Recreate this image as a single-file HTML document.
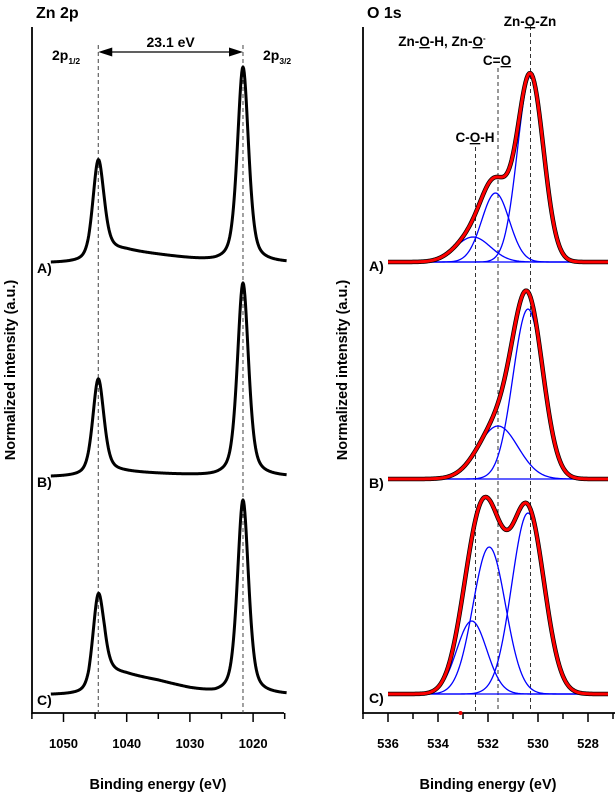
<!DOCTYPE html>
<html><head><meta charset="utf-8">
<style>
html,body{margin:0;padding:0;background:#fff;}
svg{display:block;font-family:"Liberation Sans",Arial,sans-serif;}
</style></head>
<body>
<svg id="chart" width="615" height="793" viewBox="0 0 615 793" xmlns="http://www.w3.org/2000/svg">
  <g id="zn"></g>
  <g id="o1s"></g>
</svg>
<script>
// ---------- Zn 2p data ----------
const znLabels = ["A)", "B)", "C)"];
const znBaselines = [263, 477, 695];
const znPeakCenters = [1044.5, 1021.6];
const znPeakAmpsA = [96, 196];
const znPeakAmpsB = [95, 194];
const znPeakAmpsC = [88, 195];
const znPeakFwhm = [2.1, 2.1];
const znBgEnergies = [1055, 1046, 1043.5, 1040, 1035, 1030, 1026, 1023, 1020, 1014];
const znBgA = [0, 0, 12, 12, 8, 4, 1, 0, 0, 0];
const znBgB = [0, 0, 5, 4.5, 3, 1.5, 0, 0, 0, 0];
const znBgC = [0, 0, 22, 20, 14, 6, 1, 0, 0, 0];
const znXTicks = [1050, 1040, 1030, 1020];

// ---------- O 1s data ----------
const oLabels = ["A)", "B)", "C)"];
const oBaselines = [262, 479, 694];
const oCentersA = [532.6, 531.7, 530.3];
const oAmpsA = [25, 69, 186];
const oSigmaA = [0.7, 0.55, 0.52];
const oCentersB = [531.6, 530.4];
const oAmpsB = [53, 170];
const oSigmaB = [0.8, 0.6];
const oCentersC = [532.65, 531.95, 530.4];
const oAmpsC = [73, 147, 181];
const oSigmaC = [0.6, 0.65, 0.65];
const oXTicks = [536, 534, 532, 530, 528];
const oRefLines = [532.5, 531.6, 530.3];

const NS = "http://www.w3.org/2000/svg";
function mk(parent, tag, attrs, text) {
  const e = document.createElementNS(NS, tag);
  for (const k in attrs) e.setAttribute(k, attrs[k]);
  if (text !== undefined) e.textContent = text;
  parent.appendChild(e);
  return e;
}
const xZn = E => 63.5 + (1050 - E) * 6.32;
const xO = E => 388 + (536 - E) * 25;
const yStack = (base, v) => base - v;

function interp(xs, ys, x) {
  for (let i = 0; i < xs.length - 1; i++) {
    const a = xs[i], b = xs[i + 1];
    if ((x <= a && x >= b)) { const t = (x - a) / (b - a); return ys[i] + t * (ys[i + 1] - ys[i]); }
  }
  return 0;
}
function pv(E, c, amp, fwhm) {
  const d = E - c, s = fwhm / 2.3548, g = fwhm / 2;
  const G = Math.exp(-d * d / (2 * s * s)), L = 1 / (1 + d * d / (g * g));
  return amp * (0.5 * G + 0.5 * L);
}
function gauss(E, c, amp, s) { const d = E - c; return amp * Math.exp(-d * d / (2 * s * s)); }

// ---------- Zn panel ----------
const zn = document.getElementById("zn");
let e;
e = mk(zn, "text", {x: 36, y: 18, "font-size": 16, "font-weight": "bold"}, "Zn 2p");


e = mk(zn, "line", {x1: 32, y1: 27, x2: 32, y2: 714, stroke: "#000", "stroke-width": 1.8});


e = mk(zn, "line", {x1: 32, y1: 713, x2: 284, y2: 713, stroke: "#000", "stroke-width": 1.8});


for (let E = 1055; E >= 1015; E -= 5) {
  const major = znXTicks.indexOf(E) >= 0;
  e = mk(zn, "line", {x1: xZn(E), y1: 713, x2: xZn(E), y2: major ? 722 : 719, stroke: "#000", "stroke-width": 1.5});
  
  
}
znXTicks.forEach(E => {
  e = mk(zn, "text", {x: xZn(E), y: 748, "font-size": 13, "font-weight": "bold", "text-anchor": "middle"}, String(E));
  
  
});
e = mk(zn, "text", {x: 158, y: 789, "font-size": 14.5, "font-weight": "bold", "text-anchor": "middle"}, "Binding energy (eV)");


e = mk(zn, "text", {x: 0, y: 0, "font-size": 14.5, "font-weight": "bold", "text-anchor": "middle", transform: "translate(15,370) rotate(-90)"}, "Normalized intensity (a.u.)");


znPeakCenters.forEach(c => {
  e = mk(zn, "line", {x1: xZn(c), y1: 45, x2: xZn(c), y2: 713, stroke: "#444", "stroke-width": 1, "stroke-dasharray": "4,3"});
  
  
});
const ax1 = xZn(znPeakCenters[0]), ax2 = xZn(znPeakCenters[1]);
e = mk(zn, "line", {x1: ax1 + 8, y1: 52, x2: ax2 - 8, y2: 52, stroke: "#000", "stroke-width": 1.3});


mk(zn, "polygon", {points: `${ax1},52 ${ax1+14},47.5 ${ax1+14},56.5`, fill: "#000"});
mk(zn, "polygon", {points: `${ax2},52 ${ax2-14},47.5 ${ax2-14},56.5`, fill: "#000"});
e = mk(zn, "text", {x: (ax1 + ax2) / 2, y: 47, "font-size": 14, "font-weight": "bold", "text-anchor": "middle"}, "23.1 eV");


e = mk(zn, "text", {x: 52, y: 60, "font-size": 14, "font-weight": "bold"});


e.innerHTML = '2p<tspan font-size="8.5" dy="4">1/2</tspan>';
e = mk(zn, "text", {x: 263, y: 60, "font-size": 14, "font-weight": "bold"});


e.innerHTML = '2p<tspan font-size="8.5" dy="4">3/2</tspan>';

const znAmps = [znPeakAmpsA, znPeakAmpsB, znPeakAmpsC];
const znBgs = [znBgA, znBgB, znBgC];
znBaselines.forEach((base, i) => {
  let d = "";
  for (let E = 1052; E >= 1014.7; E -= 0.1) {
    let v = interp(znBgEnergies, znBgs[i], E);
    znPeakCenters.forEach((c, k) => { v += pv(E, c, znAmps[i][k], znPeakFwhm[k]); });
    d += (d ? "L" : "M") + xZn(E).toFixed(2) + "," + yStack(base, v).toFixed(2);
  }
  e = mk(zn, "path", {d: d, fill: "none", stroke: "#000", "stroke-width": 3, "stroke-linejoin": "round"});
  
  
  e = mk(zn, "text", {x: 37, y: base + 10, "font-size": 14, "font-weight": "bold"}, znLabels[i]);
  
  
});

// ---------- O 1s panel ----------
const o = document.getElementById("o1s");
e = mk(o, "text", {x: 367, y: 18, "font-size": 16, "font-weight": "bold"}, "O 1s");


e = mk(o, "line", {x1: 363, y1: 27, x2: 363, y2: 714, stroke: "#000", "stroke-width": 1.8});


e = mk(o, "line", {x1: 363, y1: 713, x2: 615, y2: 713, stroke: "#000", "stroke-width": 1.8});


for (let E = 537; E >= 527; E -= 1) {
  const major = oXTicks.indexOf(E) >= 0;
  e = mk(o, "line", {x1: xO(E), y1: 713, x2: xO(E), y2: major ? 722 : 719, stroke: "#000", "stroke-width": 1.5});
  
  
}
oXTicks.forEach(E => {
  e = mk(o, "text", {x: xO(E), y: 748, "font-size": 13, "font-weight": "bold", "text-anchor": "middle"}, String(E));
  
  
});
e = mk(o, "text", {x: 488, y: 789, "font-size": 14.5, "font-weight": "bold", "text-anchor": "middle"}, "Binding energy (eV)");


e = mk(o, "text", {x: 0, y: 0, "font-size": 14.5, "font-weight": "bold", "text-anchor": "middle", transform: "translate(347,370) rotate(-90)"}, "Normalized intensity (a.u.)");


const refTops = [147, 68, 26];
oRefLines.forEach((c, k) => {
  e = mk(o, "line", {x1: xO(c), y1: refTops[k], x2: xO(c), y2: 713, stroke: "#333", "stroke-width": 1, "stroke-dasharray": "4,3"});
  
  
});
e = mk(o, "circle", {cx: xO(533.1), cy: 713, r: 2, fill: "#e00"});


function uText(x, y, html, name, anchor) {
  const t = mk(o, "text", {x: x, y: y, "font-size": 13.5, "font-weight": "bold", "text-anchor": anchor || "middle"});
  
  
  t.innerHTML = html;
}
uText(530, 26, 'Zn-<tspan text-decoration="underline">O</tspan>-Zn', 'label-zn-o-zn');
uText(442, 46, 'Zn-<tspan text-decoration="underline">O</tspan>-H, Zn-<tspan text-decoration="underline">O</tspan><tspan font-size="8" dy="-5">-</tspan>', 'label-zn-o-h');
uText(497, 65, 'C=<tspan text-decoration="underline">O</tspan>', 'label-c-o');
uText(475, 142, 'C-<tspan text-decoration="underline">O</tspan>-H', 'label-c-o-h');

const oCs = [oCentersA, oCentersB, oCentersC];
const oAs = [oAmpsA, oAmpsB, oAmpsC];
const oSs = [oSigmaA, oSigmaB, oSigmaC];
oBaselines.forEach((base, i) => {
  const cs = oCs[i], as = oAs[i], ss = oSs[i];
  e = mk(o, "line", {x1: xO(536), y1: base, x2: xO(527.2), y2: base, stroke: "#0000ff", "stroke-width": 1.3});
  
  
  cs.forEach((c, k) => {
    let d = "";
    for (let E = 536; E >= 527.2; E -= 0.05) {
      d += (d ? "L" : "M") + xO(E).toFixed(2) + "," + yStack(base, gauss(E, c, as[k], ss[k])).toFixed(2);
    }
    e = mk(o, "path", {d: d, fill: "none", stroke: "#0000ff", "stroke-width": 1.3});
    
    
  });
  let d = "";
  for (let E = 536; E >= 527.2; E -= 0.05) {
    let v = 0; cs.forEach((c, k) => { v += gauss(E, c, as[k], ss[k]); });
    d += (d ? "L" : "M") + xO(E).toFixed(2) + "," + yStack(base, v).toFixed(2);
  }
  e = mk(o, "path", {d: d, fill: "none", stroke: "#000", "stroke-width": 4.5, "stroke-linejoin": "round"});
  
  
  e = mk(o, "path", {d: d, fill: "none", stroke: "#ff0000", "stroke-width": 3, "stroke-linejoin": "round"});
  
  
  e = mk(o, "text", {x: 369, y: base + 9, "font-size": 14, "font-weight": "bold"}, oLabels[i]);
  
  
});
</script>
</body></html>
